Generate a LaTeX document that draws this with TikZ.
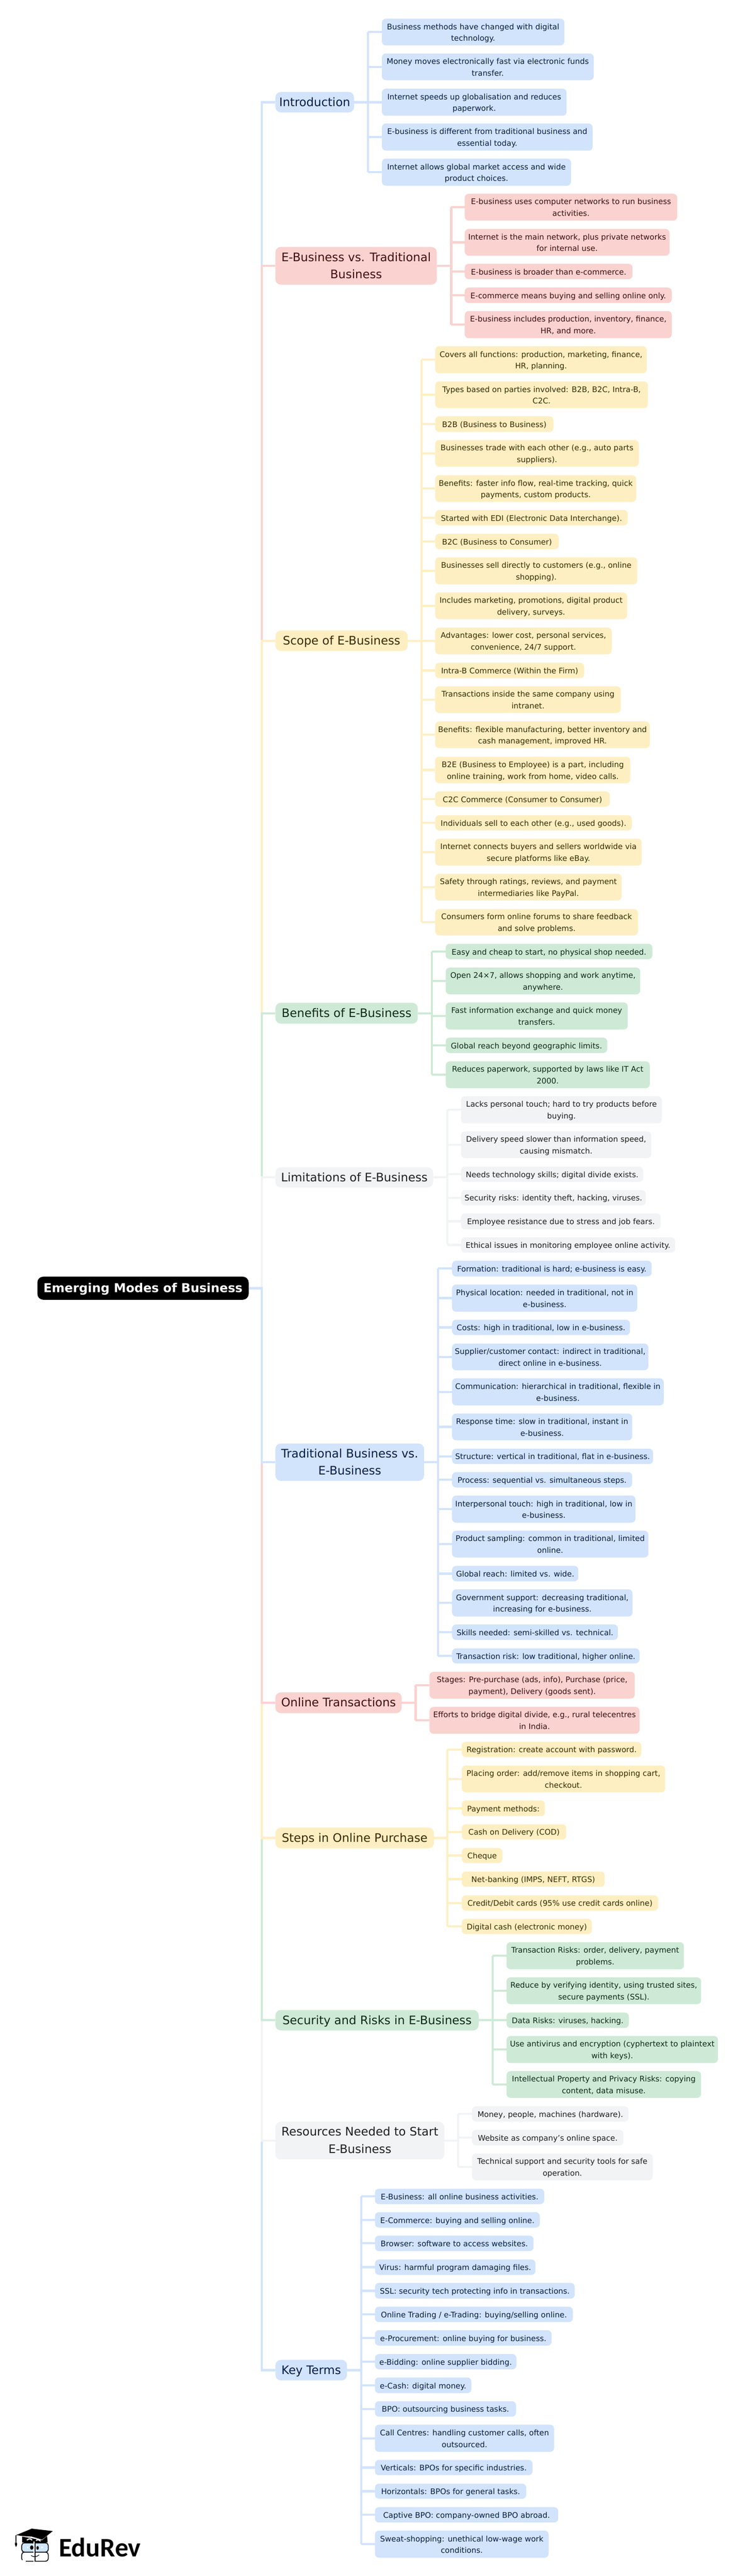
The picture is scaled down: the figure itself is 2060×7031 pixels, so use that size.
\documentclass[tikz,border=0pt]{standalone}
\usepackage{fontspec}
\setmainfont{DejaVu Sans}
\newfontfamily\logofont{Carlito}
\definecolor{fillB}{HTML}{D2E3FC}\definecolor{textB}{HTML}{041E49}
\definecolor{fillP}{HTML}{FAD2CF}\definecolor{textP}{HTML}{410E0B}
\definecolor{fillY}{HTML}{FEEFC3}\definecolor{textY}{HTML}{3A2A00}
\definecolor{fillG}{HTML}{CEEAD6}\definecolor{textG}{HTML}{0D2A16}
\definecolor{fillK}{HTML}{F1F3F4}\definecolor{textK}{HTML}{1F1F1F}
\tikzset{
  x=1pt,y=-1pt,
  boxbase/.style={shape=rectangle,inner sep=0pt,outer sep=0pt,align=center,draw=none},
  leafbox/.style={boxbase,rounded corners=11pt,font=\fontsize{21}{32}\selectfont},
  topbox/.style={boxbase,rounded corners=15pt,font=\fontsize{32}{47}\selectfont},
  rootbox/.style={boxbase,rounded corners=16pt,fill=black,text=white,font=\fontsize{33.5}{47}\selectfont\bfseries},
  thB/.style={fill=fillB,text=textB},
  thP/.style={fill=fillP,text=textP},
  thY/.style={fill=fillY,text=textY},
  thG/.style={fill=fillG,text=textG},
  thK/.style={fill=fillK,text=textK},
  lnB/.style={draw=fillB,line width=6pt},
  lnP/.style={draw=fillP,line width=6pt},
  lnY/.style={draw=fillY,line width=6pt},
  lnG/.style={draw=fillG,line width=6pt},
  lnK/.style={draw=fillK,line width=6pt},
}
\newcommand\lstrut{\rule[-7.3pt]{0pt}{32pt}}
\newcommand\tstrut{\rule[-12.5pt]{0pt}{47pt}}
% \tp{name}{theme}{right}{top}{bottom}{text}
\newcommand\tp[6]{\node[topbox,th#2,minimum width={(#3-751.5)*1pt},minimum height={(#5-#4)*1pt}] (#1) at ({(#3+751.5)/2},{(#4+#5)/2}) {\tstrut #6\tstrut};}
% \grp{spine name}{theme}{parent}{spine x}
\newcommand\grp[4]{\coordinate (#1) at (#4,0);\draw[ln#2] (#3.east) -- (#1 |- #3.east);}
% \lf{name}{theme}{spine}{left}{right}{top}{bottom}{text}
\newcommand\lf[8]{\node[leafbox,th#2,minimum width={(#5-#4)*1pt},minimum height={(#7-#6)*1pt}] (#1) at ({(#4+#5)/2},{(#6+#7)/2}) {\lstrut #8\lstrut};
  \draw[ln#2] (#3 |- #1.west) -- (#1.west);}
\newcommand\spn[4]{\draw[ln#1] (#2 |- #3.west) -- (#2 |- #4.west);}
\begin{document}
\begin{tikzpicture}
\useasboundingbox (0,0) rectangle (2060,7031);
\fill[white] (0,0) rectangle (2060,7031);

\node[rootbox,minimum width=576.5pt,minimum height=63pt] (root) at (390.25,3516) {\rule[-12.5pt]{0pt}{47pt}Emerging Modes of Business};
\coordinate (main) at (714,0);

\tp{intro}{B}{966}{251}{307}{Introduction}
\tp{evst}{P}{1192}{674}{777}{E-Business vs. Traditional\\Business}
\tp{scope}{Y}{1112.5}{1721}{1777}{Scope of E-Business}
\tp{bene}{G}{1140}{2737}{2794}{Benefits of E-Business}
\tp{limi}{K}{1182}{3186}{3241}{Limitations of E-Business}
\tp{trad}{B}{1157}{3940}{4042}{Traditional Business vs.\\E-Business}
\tp{onli}{P}{1096}{4619}{4676}{Online Transactions}
\tp{step}{Y}{1184}{4988}{5045}{Steps in Online Purchase}
\tp{secu}{G}{1306}{5486}{5542}{Security and Risks in E-Business}
\tp{reso}{K}{1212.5}{5791}{5894}{Resources Needed to Start\\E-Business}
\tp{keyt}{B}{947}{6441}{6497}{Key Terms}

% main spine: nearer branches are drawn over farther ones
\draw[lnB] (root.east) -- (main |- root.east) |- (intro.west);
\draw[lnP] (root.east) -- (main |- root.east) |- (evst.west);
\draw[lnY] (root.east) -- (main |- root.east) |- (scope.west);
\draw[lnG] (root.east) -- (main |- root.east) |- (bene.west);
\draw[lnK] (root.east) -- (main |- root.east) |- (limi.west);
\draw[lnB] (root.east) -- (main |- root.east) |- (keyt.west);
\draw[lnK] (root.east) -- (main |- root.east) |- (reso.west);
\draw[lnG] (root.east) -- (main |- root.east) |- (secu.west);
\draw[lnY] (root.east) -- (main |- root.east) |- (step.west);
\draw[lnP] (root.east) -- (main |- root.east) |- (onli.west);
\draw[lnB] (root.east) -- (main |- root.east) |- (trad.west);

% Introduction
\grp{sa}{B}{intro}{1004}
\lf{a1}{B}{sa}{1042}{1540}{51}{124}{Business methods have changed with digital\\technology.}
\lf{a2}{B}{sa}{1042}{1620}{146}{219}{Money moves electronically fast via electronic funds\\transfer.}
\lf{a3}{B}{sa}{1042}{1546}{242}{316}{Internet speeds up globalisation and reduces\\paperwork.}
\lf{a4}{B}{sa}{1042}{1617}{337}{411}{E-business is different from traditional business and\\essential today.}
\lf{a5}{B}{sa}{1042}{1558}{433}{507}{Internet allows global market access and wide\\product choices.}
\spn{B}{sa}{a1}{a5}

% E-Business vs Traditional
\grp{sb}{P}{evst}{1231}
\lf{b1}{P}{sb}{1268}{1848}{529}{602}{E-business uses computer networks to run business\\activities.}
\lf{b2}{P}{sb}{1268}{1827}{625}{698}{Internet is the main network, plus private networks\\for internal use.}
\lf{b3}{P}{sb}{1268}{1726}{720}{762}{E-business is broader than e-commerce.}
\lf{b4}{P}{sb}{1268}{1833}{785}{827}{E-commerce means buying and selling online only.}
\lf{b5}{P}{sb}{1268}{1833}{849}{923}{E-business includes production, inventory, finance,\\HR, and more.}
\spn{P}{sb}{b1}{b5}

% Scope
\grp{sc}{Y}{scope}{1150}
\lf{c1}{Y}{sc}{1187.5}{1765}{945}{1019}{Covers all functions: production, marketing, finance,\\HR, planning.}
\lf{c2}{Y}{sc}{1187.5}{1768}{1041}{1114}{Types based on parties involved: B2B, B2C, Intra-B,\\C2C.}
\lf{c3}{Y}{sc}{1187.5}{1510}{1136}{1179}{B2B (Business to Business)}
\lf{c4}{Y}{sc}{1187.5}{1743}{1201}{1274}{Businesses trade with each other (e.g., auto parts\\suppliers).}
\lf{c5}{Y}{sc}{1187.5}{1736}{1297}{1370}{Benefits: faster info flow, real-time tracking, quick\\payments, custom products.}
\lf{c6}{Y}{sc}{1187.5}{1713}{1392}{1434}{Started with EDI (Electronic Data Interchange).}
\lf{c7}{Y}{sc}{1187.5}{1525}{1457}{1499}{B2C (Business to Consumer)}
\lf{c8}{Y}{sc}{1187.5}{1739}{1521}{1595}{Businesses sell directly to customers (e.g., online\\shopping).}
\lf{c9}{Y}{sc}{1187.5}{1711}{1617}{1690}{Includes marketing, promotions, digital product\\delivery, surveys.}
\lf{c10}{Y}{sc}{1187.5}{1669}{1713}{1786}{Advantages: lower cost, personal services,\\convenience, 24/7 support.}
\lf{c11}{Y}{sc}{1187.5}{1594}{1809}{1851}{Intra-B Commerce (Within the Firm)}
\lf{c12}{Y}{sc}{1187.5}{1694}{1873}{1946}{Transactions inside the same company using\\intranet.}
\lf{c13}{Y}{sc}{1187.5}{1773}{1969}{2042}{Benefits: flexible manufacturing, better inventory and\\cash management, improved HR.}
\lf{c14}{Y}{sc}{1187.5}{1720}{2065}{2138}{B2E (Business to Employee) is a part, including\\online training, work from home, video calls.}
\lf{c15}{Y}{sc}{1187.5}{1664}{2160}{2202}{C2C Commerce (Consumer to Consumer)}
\lf{c16}{Y}{sc}{1187.5}{1724}{2225}{2267}{Individuals sell to each other (e.g., used goods).}
\lf{c17}{Y}{sc}{1187.5}{1751}{2289}{2363}{Internet connects buyers and sellers worldwide via\\secure platforms like eBay.}
\lf{c18}{Y}{sc}{1187.5}{1696}{2385}{2458}{Safety through ratings, reviews, and payment\\intermediaries like PayPal.}
\lf{c19}{Y}{sc}{1187.5}{1741}{2481}{2553}{Consumers form online forums to share feedback\\and solve problems.}
\spn{Y}{sc}{c1}{c19}

% Benefits
\grp{sd}{G}{bene}{1178.5}
\lf{d1}{G}{sd}{1216}{1780}{2576}{2618}{Easy and cheap to start, no physical shop needed.}
\lf{d2}{G}{sd}{1216}{1747}{2641}{2714}{Open 24×7, allows shopping and work anytime,\\anywhere.}
\lf{d3}{G}{sd}{1216}{1713}{2736}{2810}{Fast information exchange and quick money\\transfers.}
\lf{d4}{G}{sd}{1216}{1657}{2832}{2874}{Global reach beyond geographic limits.}
\lf{d5}{G}{sd}{1216}{1773}{2897}{2970}{Reduces paperwork, supported by laws like IT Act\\2000.}
\spn{G}{sd}{d1}{d5}

% Limitations
\grp{se}{K}{limi}{1220.5}
\lf{e1}{K}{se}{1258}{1806}{2992}{3066}{Lacks personal touch; hard to try products before\\buying.}
\lf{e2}{K}{se}{1258}{1777}{3088}{3161}{Delivery speed slower than information speed,\\causing mismatch.}
\lf{e3}{K}{se}{1258}{1755}{3184}{3226}{Needs technology skills; digital divide exists.}
\lf{e4}{K}{se}{1258}{1762}{3248}{3290}{Security risks: identity theft, hacking, viruses.}
\lf{e5}{K}{se}{1258}{1803}{3312}{3355}{Employee resistance due to stress and job fears.}
\lf{e6}{K}{se}{1258}{1842}{3377}{3419}{Ethical issues in monitoring employee online activity.}
\spn{K}{se}{e1}{e6}

% Traditional vs E-Business
\grp{sf}{B}{trad}{1195}
\lf{f1}{B}{sf}{1233.5}{1778}{3441}{3484}{Formation: traditional is hard; e-business is easy.}
\lf{f2}{B}{sf}{1233.5}{1739}{3506}{3580}{Physical location: needed in traditional, not in\\e-business.}
\lf{f3}{B}{sf}{1233.5}{1719}{3602}{3644}{Costs: high in traditional, low in e-business.}
\lf{f4}{B}{sf}{1233.5}{1769}{3667}{3740}{Supplier/customer contact: indirect in traditional,\\direct online in e-business.}
\lf{f5}{B}{sf}{1233.5}{1811}{3762}{3836}{Communication: hierarchical in traditional, flexible in\\e-business.}
\lf{f6}{B}{sf}{1233.5}{1725}{3858}{3931}{Response time: slow in traditional, instant in\\e-business.}
\lf{f7}{B}{sf}{1233.5}{1782}{3954}{3996}{Structure: vertical in traditional, flat in e-business.}
\lf{f8}{B}{sf}{1233.5}{1725}{4018}{4060}{Process: sequential vs. simultaneous steps.}
\lf{f9}{B}{sf}{1233.5}{1734}{4082}{4156}{Interpersonal touch: high in traditional, low in\\e-business.}
\lf{f10}{B}{sf}{1233.5}{1769}{4178}{4251}{Product sampling: common in traditional, limited\\online.}
\lf{f11}{B}{sf}{1233.5}{1578}{4274}{4316}{Global reach: limited vs. wide.}
\lf{f12}{B}{sf}{1233.5}{1726}{4338}{4412}{Government support: decreasing traditional,\\increasing for e-business.}
\lf{f13}{B}{sf}{1233.5}{1686}{4434}{4476}{Skills needed: semi-skilled vs. technical.}
\lf{f14}{B}{sf}{1233.5}{1745}{4499}{4540}{Transaction risk: low traditional, higher online.}
\spn{B}{sf}{f1}{f14}

% Online transactions
\grp{sg}{P}{onli}{1134}
\lf{g1}{P}{sg}{1172}{1732}{4563}{4636}{Stages: Pre-purchase (ads, info), Purchase (price,\\payment), Delivery (goods sent).}
\lf{g2}{P}{sg}{1172}{1745}{4659}{4732}{Efforts to bridge digital divide, e.g., rural telecentres\\in India.}
\spn{P}{sg}{g1}{g2}

% Steps
\grp{sh}{Y}{step}{1221}
\lf{h1}{Y}{sh}{1260}{1750}{4754}{4796}{Registration: create account with password.}
\lf{h2}{Y}{sh}{1260}{1815}{4819}{4892}{Placing order: add/remove items in shopping cart,\\checkout.}
\lf{h3}{Y}{sh}{1260}{1487}{4914}{4957}{Payment methods:}
\lf{h4}{Y}{sh}{1260}{1545}{4979}{5021}{Cash on Delivery (COD)}
\lf{h5}{Y}{sh}{1260}{1371}{5044}{5085}{Cheque}
\lf{h6}{Y}{sh}{1260}{1650}{5108}{5150}{Net-banking (IMPS, NEFT, RTGS)}
\lf{h7}{Y}{sh}{1260}{1796}{5173}{5215}{Credit/Debit cards (95\% use credit cards online)}
\lf{h8}{Y}{sh}{1260}{1615}{5237}{5279}{Digital cash (electronic money)}
\spn{Y}{sh}{h1}{h8}

% Security
\grp{si}{G}{secu}{1344}
\lf{i1}{G}{si}{1382}{1866}{5301}{5375}{Transaction Risks: order, delivery, payment\\problems.}
\lf{i2}{G}{si}{1382}{1913}{5397}{5470}{Reduce by verifying identity, using trusted sites,\\secure payments (SSL).}
\lf{i3}{G}{si}{1382}{1716}{5493}{5535}{Data Risks: viruses, hacking.}
\lf{i4}{G}{si}{1382}{1959}{5557}{5631}{Use antivirus and encryption (cyphertext to plaintext\\with keys).}
\lf{i5}{G}{si}{1382}{1913}{5653}{5726}{Intellectual Property and Privacy Risks: copying\\content, data misuse.}
\spn{G}{si}{i1}{i5}

% Resources
\grp{sj}{K}{reso}{1250}
\lf{j1}{K}{sj}{1288}{1715}{5749}{5791}{Money, people, machines (hardware).}
\lf{j2}{K}{sj}{1288}{1701}{5813}{5856}{Website as company’s online space.}
\lf{j3}{K}{sj}{1288}{1781}{5878}{5951}{Technical support and security tools for safe\\operation.}
\spn{K}{sj}{j1}{j3}

% Key terms
\grp{sk}{B}{keyt}{985.5}
\lf{k1}{B}{sk}{1023}{1485}{5974}{6016}{E-Business: all online business activities.}
\lf{k2}{B}{sk}{1023}{1473}{6038}{6080}{E-Commerce: buying and selling online.}
\lf{k3}{B}{sk}{1023}{1456}{6102}{6144}{Browser: software to access websites.}
\lf{k4}{B}{sk}{1023}{1461}{6167}{6209}{Virus: harmful program damaging files.}
\lf{k5}{B}{sk}{1023}{1568}{6231}{6274}{SSL: security tech protecting info in transactions.}
\lf{k6}{B}{sk}{1023}{1563}{6296}{6338}{Online Trading / e-Trading: buying/selling online.}
\lf{k7}{B}{sk}{1023}{1505}{6360}{6402}{e-Procurement: online buying for business.}
\lf{k8}{B}{sk}{1023}{1409}{6425}{6467}{e-Bidding: online supplier bidding.}
\lf{k9}{B}{sk}{1023}{1286}{6489}{6532}{e-Cash: digital money.}
\lf{k10}{B}{sk}{1023}{1408}{6554}{6596}{BPO: outsourcing business tasks.}
\lf{k11}{B}{sk}{1023}{1512}{6618}{6692}{Call Centres: handling customer calls, often\\outsourced.}
\lf{k12}{B}{sk}{1023}{1453}{6714}{6756}{Verticals: BPOs for specific industries.}
\lf{k13}{B}{sk}{1023}{1436}{6779}{6820}{Horizontals: BPOs for general tasks.}
\lf{k14}{B}{sk}{1023}{1523}{6843}{6885}{Captive BPO: company-owned BPO abroad.}
\lf{k15}{B}{sk}{1023}{1497}{6907}{6981}{Sweat-shopping: unethical low-wage work\\conditions.}
\spn{B}{sk}{k1}{k15}

% Logo
\node[anchor=base,inner sep=0pt,text=black,font=\fontsize{73}{76}\selectfont\logofont\bfseries] (logotext) at (272.5,6978) {EduRev};
\begin{scope}[xshift=20pt,yshift=-6880pt,x=0.3333pt,y=-0.3333pt]
  \fill[black] (72,118) -- (200,65) -- (372,85) -- (285,155) -- (200,130) -- (120,125) -- cycle;
  \fill[black] (122,130) -- (285,160) -- (325,125) -- (330,178) -- (122,178) -- cycle;
  \draw[white,line width=3pt] (160,160) .. controls (175,145) and (190,145) .. (203,160);
  \draw[white,line width=3pt] (235,162) .. controls (245,153) and (260,155) .. (272,167);
  \draw[black,line width=2pt] (70,118) -- (70,180);
  \fill[black] (62,180) -- (79,180) -- (80,198) -- (71,216) -- (63,198) -- cycle;
  \filldraw[fill=white,draw=black,line width=2.2pt,rounded corners=7pt] (118,257) rectangle (335,332);
  \fill[white] (118,322) rectangle (150,340);
  \filldraw[fill={rgb,255:red,205;green,230;blue,250},draw=black,line width=2.2pt,rounded corners=7pt] (118,182) rectangle (335,257);
  \draw[white,line width=3pt] (219,170) -- (219,335);
  \draw[black,line width=2.2pt] (226,170) -- (226,335);
  \fill[black] (200,220) ellipse (14 and 18);
  \fill[black] (248,223) ellipse (10 and 15);
  \fill[white] (160,212) rectangle (174,224);
  \fill[white] (278,212) rectangle (292,224);
  \draw[black,line width=1.6pt] (195,285) .. controls (215,300) and (240,298) .. (260,280);
\end{scope}
\end{tikzpicture}
\end{document}
